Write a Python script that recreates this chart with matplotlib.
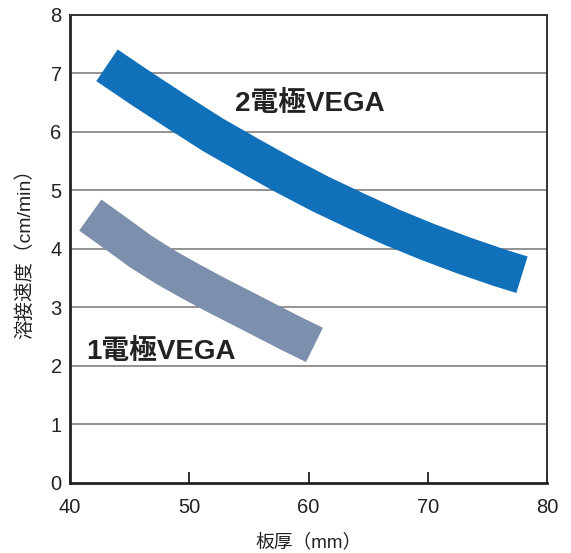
import matplotlib
matplotlib.use("Agg")
import matplotlib.pyplot as plt

plt.rcParams['font.family'] = ['Liberation Sans', 'Noto Sans CJK JP', 'DejaVu Sans']

# centre line of each band
x_two = [43.1, 46.0, 49.0, 52.0, 55.0, 58.0, 61.0, 64.0, 67.0, 70.0, 73.0, 76.0, 77.9]
y_two = [7.14, 6.74, 6.34, 5.95, 5.60, 5.26, 4.94, 4.65, 4.37, 4.12, 3.89, 3.68, 3.56]
x_one = [41.7, 43.0, 44.5, 45.9, 48.0, 50.0, 52.0, 54.3, 56.5, 58.5, 60.5]
y_one = [4.58, 4.39, 4.17, 3.96, 3.69, 3.46, 3.24, 3.00, 2.77, 2.56, 2.36]

label_two = "2電極VEGA"
label_one = "1電極VEGA"
xlabel = "板厚（mm）"
ylabel = "溶接速度（cm/min）"

fig = plt.figure(figsize=(5.71, 5.53), dpi=100)
ax = fig.add_axes([0.1226, 0.1266, 0.8354, 0.8463])

ax.set_xlim(40, 80)
ax.set_ylim(0, 8)

# horizontal grid
for g in range(1, 8):
    ax.axhline(g, color='#8a8a8a', lw=1.3, zorder=1)

ax.plot(x_two, y_two, color='#1170ba', lw=27.5, solid_capstyle='butt',
        solid_joinstyle='round', zorder=3)
ax.plot(x_one, y_one, color='#7c8fac', lw=27.5, solid_capstyle='butt',
        solid_joinstyle='round', zorder=3)

ax.text(60.1, 6.48, label_two, fontsize=20, fontweight='bold',
        ha='center', va='center', color='#222222', zorder=4)
ax.text(47.6, 2.24, label_one, fontsize=20, fontweight='bold',
        ha='center', va='center', color='#222222', zorder=4)

ax.set_xticks([40, 50, 60, 70, 80])
ax.set_yticks(range(0, 9))
ax.tick_params(axis='x', direction='in', length=8, width=1.3, pad=11,
               labelsize=14.5, color='#222222', labelcolor='#222222')
ax.tick_params(axis='y', length=0, pad=6, labelsize=14.5, labelcolor='#222222')

for s in ['left', 'bottom']:
    ax.spines[s].set_linewidth(2)
    ax.spines[s].set_color('#222222')
for s in ['right', 'top']:
    ax.spines[s].set_linewidth(1.4)
    ax.spines[s].set_color('#333333')

ax.set_xlabel(xlabel, fontsize=13.5, labelpad=12, color='#222222')
ax.set_ylabel(ylabel, fontsize=14, labelpad=12, color='#222222')

fig.savefig("out.png", dpi=100)
